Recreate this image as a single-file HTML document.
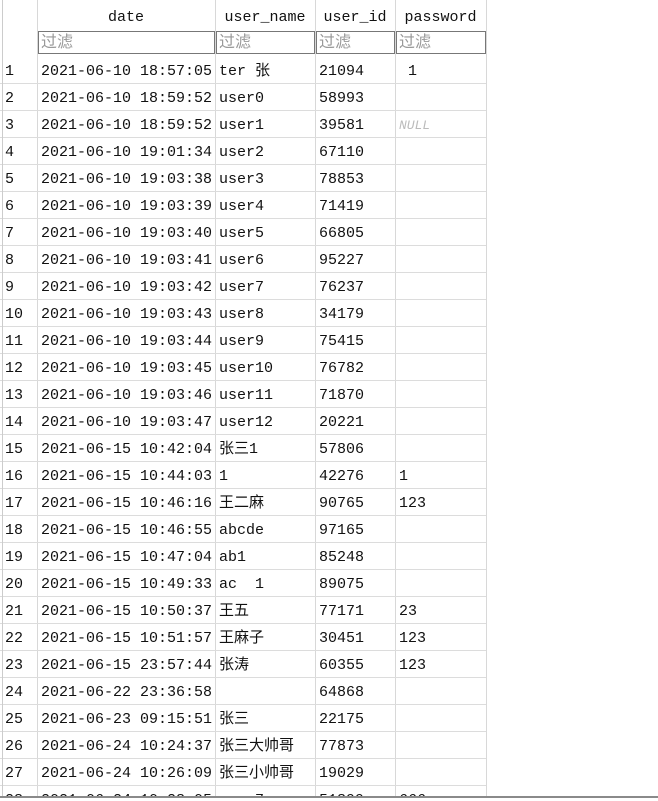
<!DOCTYPE html>
<html><head><meta charset="utf-8">
<style>
body{margin:0;width:658px;height:801px;background:#fff;overflow:hidden;position:relative;font-family:"Liberation Mono","Noto Sans CJK SC",monospace;font-size:15px;color:#111}
.a{position:absolute}
.vl{position:absolute;width:1px;background:#d8d8d8}
.hl{position:absolute;height:1px;background:#dcdcdc}
.c{position:absolute;white-space:pre;line-height:27px;height:27px;overflow:hidden}
.f{position:absolute;top:31px;height:23px;border:1px solid #777;box-sizing:border-box;color:#999;line-height:22px;padding-left:2px;font-size:16px;overflow:hidden}
</style></head><body>
<div id="grid" class="a" style="left:0;top:0;width:658px;height:797px;overflow:hidden"></div>
<div class="a" style="left:2px;top:0;width:1px;height:797px;background:#ccc"></div>
<div class="a" style="left:0;top:796px;width:658px;height:2px;background:#8a8a8a"></div>
<script>
const headers=["date","user_name","user_id","password"];
const colX=[37,215,315,395,486];
const dates=["2021-06-10 18:57:05","2021-06-10 18:59:52","2021-06-10 18:59:52","2021-06-10 19:01:34","2021-06-10 19:03:38","2021-06-10 19:03:39","2021-06-10 19:03:40","2021-06-10 19:03:41","2021-06-10 19:03:42","2021-06-10 19:03:43","2021-06-10 19:03:44","2021-06-10 19:03:45","2021-06-10 19:03:46","2021-06-10 19:03:47","2021-06-15 10:42:04","2021-06-15 10:44:03","2021-06-15 10:46:16","2021-06-15 10:46:55","2021-06-15 10:47:04","2021-06-15 10:49:33","2021-06-15 10:50:37","2021-06-15 10:51:57","2021-06-15 23:57:44","2021-06-22 23:36:58","2021-06-23 09:15:51","2021-06-24 10:24:37","2021-06-24 10:26:09","2021-06-24 10:28:05"];
const names=["ter 张","user0","user1","user2","user3","user4","user5","user6","user7","user8","user9","user10","user11","user12","张三1","1","王二麻","abcde","ab1","ac  1","王五","王麻子","张涛","","张三","张三大帅哥","张三小帅哥","user7"];
const ids=["21094","58993","39581","67110","78853","71419","66805","95227","76237","34179","75415","76782","71870","20221","57806","42276","90765","97165","85248","89075","77171","30451","60355","64868","22175","77873","19029","51899"];
const pwds=[" 1","","NULL","","","","","","","","","","","","","1","123","","","","23","123","123","","","","","666"];
const g=document.getElementById('grid');
function mk(cls,style,text){const d=document.createElement('div');d.className=cls;d.style.cssText=style;if(text!==undefined)d.textContent=text;g.appendChild(d);return d;}
const top0=57,rh=27,n=dates.length;
colX.forEach((x,i)=>{const v=mk('vl','left:'+x+'px;top:0;height:797px');

});
headers.forEach((h,i)=>{const d=mk('c','left:'+colX[i]+'px;width:'+(colX[i+1]-colX[i])+'px;top:4px;text-align:center',h);


const f=mk('f','left:'+(colX[i]+1)+'px;width:'+(colX[i+1]-colX[i]-1)+'px','过滤');

});
for(let r=0;r<n;r++){
 const y=top0+r*rh;
 const l=mk('hl','left:0;width:486px;top:'+(y+rh-1)+'px');
 
 
 const rn=mk('c','left:5px;top:'+(y+1)+'px',String(r+1));
 
 
 const vals=[dates[r],names[r],ids[r],pwds[r]];
 vals.forEach((v,i)=>{
  const c=mk('c','left:'+(colX[i]+4)+'px;top:'+(y+1)+'px;width:'+(colX[i+1]-colX[i]-5)+'px',v);
  if(v==='NULL'){c.style.color='#bbb';c.style.fontStyle='italic';c.style.fontSize='13px';}
  
  
 });
}
</script>
</body></html>
